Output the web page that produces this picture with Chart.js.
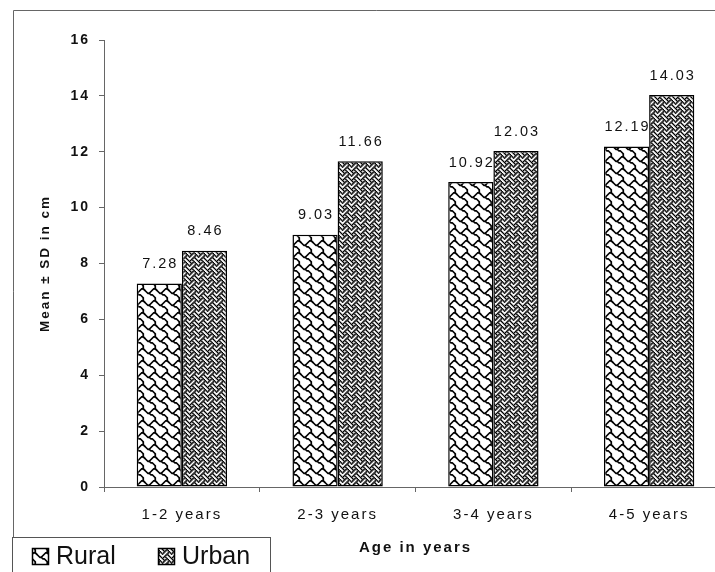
<!DOCTYPE html>
<html>
<head>
<meta charset="utf-8">
<script src="https://cdn.jsdelivr.net/npm/chart.js@4/dist/chart.umd.min.js"></script>
<style>
  html, body { margin: 0; padding: 0; background: #fff; overflow: hidden; width: 715px; height: 572px; }
  canvas { display: block; }
</style>
</head>
<body>
<canvas id="chart" width="740" height="572"></canvas>
<script>
// Age groups and mean values (cm) for each setting
const categories = ['1-2 years', '2-3 years', '3-4 years', '4-5 years'];
const ruralValues = [7.28, 9.03, 10.92, 12.19];
const urbanValues = [8.46, 11.66, 12.03, 14.03];
const seriesNames = ['Rural', 'Urban'];
const yMin = 0, yMax = 16, yStep = 2;

const FONT = 'Arial, "Liberation Sans", Helvetica, sans-serif';

// "Shingle" hatch: wavy scale-like strokes on white
function shinglePattern() {
  const s = 1.5, n = 8, size = n * s;
  const c = document.createElement('canvas');
  c.width = size; c.height = size;
  const g = c.getContext('2d');
  g.fillStyle = '#fff';
  g.fillRect(0, 0, size, size);
  g.strokeStyle = '#000';
  g.lineWidth = 1.75;
  g.lineJoin = 'round';
  g.lineCap = 'round';
  const paths = [
    [[0,1],[1,2],[2,3],[3,3],[4,2],[5,1],[6,0],[7,0],[8,1]],
    [[3,3],[4,4],[5,4],[6,5],[7,6],[7,7],[7,8]]
  ];
  for (const ox of [-size, 0, size]) {
    for (const oy of [-size, 0, size]) {
      for (const p of paths) {
        g.beginPath();
        p.forEach(([x, y], i) => {
          const px = ox + (x + 0.5) * s, py = oy + (y + 0.5) * s;
          if (i === 0) g.moveTo(px, py); else g.lineTo(px, py);
        });
        g.stroke();
      }
    }
  }
  return g.createPattern(c, 'repeat');
}

// "Weave" hatch: dense interlaced diagonals
function weavePattern() {
  const rows = [0x88, 0x54, 0x22, 0x45, 0x88, 0x14, 0x22, 0x51];
  const s = 1.125, n = 8, size = n * s;
  const c = document.createElement('canvas');
  c.width = size; c.height = size;
  const g = c.getContext('2d');
  g.fillStyle = '#fff';
  g.fillRect(0, 0, size, size);
  g.fillStyle = '#000';
  for (const ox of [-size, 0, size]) {
    for (const oy of [-size, 0, size]) {
      rows.forEach((bits, y) => {
        for (let x = 0; x < 8; x++) {
          if (bits & (0x80 >> x)) g.fillRect(ox + x * s - 0.2, oy + y * s - 0.2, s + 0.45, s + 0.45);
        }
      });
    }
  }
  return g.createPattern(c, 'repeat');
}

const ruralFill = shinglePattern();
const urbanFill = weavePattern();

// Page frame, white background and boxed legend
const framePlugin = {
  id: 'frame',
  beforeLayout(chart) { chart.ctx.letterSpacing = '2px'; },
  beforeDraw(chart) {
    const ctx = chart.ctx;
    ctx.save();
    ctx.fillStyle = '#fff';
    ctx.fillRect(0, 0, chart.width, chart.height);
    ctx.strokeStyle = '#666';
    ctx.lineWidth = 1;
    ctx.beginPath();
    ctx.moveTo(13.5, chart.height);
    ctx.lineTo(13.5, 10.5);
    ctx.lineTo(chart.width, 10.5);
    ctx.stroke();
    ctx.restore();
    ctx.letterSpacing = '2px';
  },
  afterDraw(chart) {
    const ctx = chart.ctx;
    ctx.save();
    ctx.letterSpacing = '0px';
    ctx.fillStyle = '#fff';
    ctx.strokeStyle = '#555';
    ctx.lineWidth = 1;
    ctx.fillRect(12, 537, 259, 40);
    ctx.strokeRect(12.5, 537.5, 258, 40);
    const items = [
      { x: 32, fill: chart.data.datasets[0].backgroundColor, text: chart.data.datasets[0].label },
      { x: 158, fill: chart.data.datasets[1].backgroundColor, text: chart.data.datasets[1].label }
    ];
    ctx.font = '25px ' + FONT;
    ctx.textBaseline = 'middle';
    ctx.textAlign = 'left';
    for (const it of items) {
      ctx.fillStyle = it.fill;
      ctx.fillRect(it.x, 548, 17, 17);
      ctx.strokeStyle = '#000';
      ctx.lineWidth = 1.5;
      ctx.strokeRect(it.x + 0.5, 548.5, 16, 16);
      ctx.fillStyle = '#111';
      ctx.fillText(it.text, it.x + 24, 557);
    }
    ctx.restore();
  }
};

// Value printed above each bar
const valueLabels = {
  id: 'valueLabels',
  afterDatasetsDraw(chart) {
    const ctx = chart.ctx;
    ctx.save();
    ctx.letterSpacing = '2px';
    ctx.font = '14.5px ' + FONT;
    ctx.fillStyle = '#111';
    ctx.textAlign = 'center';
    ctx.textBaseline = 'bottom';
    chart.data.datasets.forEach((ds, i) => {
      chart.getDatasetMeta(i).data.forEach((bar, j) => {
        ctx.fillText(ds.data[j].toFixed(2), bar.x + 1, bar.y - 12);
      });
    });
    ctx.restore();
  }
};

new Chart(document.getElementById('chart'), {
  type: 'bar',
  data: {
    labels: categories,
    datasets: [
      { label: seriesNames[0], data: ruralValues, backgroundColor: ruralFill, borderColor: '#000', borderWidth: 1.5, borderSkipped: false },
      { label: seriesNames[1], data: urbanValues, backgroundColor: urbanFill, borderColor: '#000', borderWidth: 1.5, borderSkipped: false }
    ]
  },
  options: {
    responsive: false,
    animation: false,
    devicePixelRatio: 1,
    categoryPercentage: 0.58,
    barPercentage: 1.0,
    layout: { padding: { left: 13, top: 40, right: 13, bottom: 0 } },
    plugins: {
      legend: { display: false },
      tooltip: { enabled: false }
    },
    scales: {
      x: {
        grid: { display: true, drawOnChartArea: false, drawTicks: true, tickLength: 5, color: '#666', offset: true },
        border: { display: true, color: '#666', width: 1 },
        ticks: { padding: 14, color: '#111', font: { family: FONT, size: 15 } },
        title: { display: true, text: 'Age in years', color: '#111', font: { family: FONT, size: 15, weight: 'bold' }, padding: { top: 0, bottom: 15 } },
        afterFit(scale) { scale.height = 85; }
      },
      y: {
        min: yMin,
        max: yMax,
        grid: { display: true, drawOnChartArea: false, drawTicks: true, tickLength: 5, color: '#666' },
        border: { display: true, color: '#666', width: 1 },
        ticks: { stepSize: yStep, padding: 9, color: '#111', font: { family: FONT, size: 14, weight: 'bold' } },
        title: { display: true, text: 'Mean ± SD in cm', color: '#111', font: { family: FONT, size: 13.5, weight: 'bold' }, padding: { top: 24, bottom: 0 } },
        afterFit(scale) { scale.width = 91; }
      }
    }
  },
  plugins: [framePlugin, valueLabels]
});
</script>
</body>
</html>
